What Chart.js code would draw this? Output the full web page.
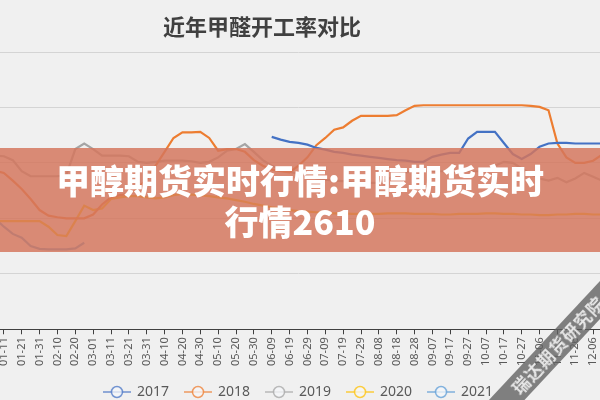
<!DOCTYPE html>
<html>
<head>
<meta charset="utf-8">
<script src="https://cdn.jsdelivr.net/npm/chart.js@4"></script>
<style>
  html, body { margin: 0; padding: 0; background: #f0f0f0; }
  #wrap { position: relative; width: 600px; height: 400px; overflow: hidden; background: #f0f0f0; }
  #chart { position: absolute; left: -40px; top: 9px; }
  #title {
    position: absolute; left: 162px; width: 200px; top: 9px; text-align: center;
    font: bold 22px "Noto Sans CJK SC", sans-serif; color: #404040; white-space: nowrap;
  }
  #banner {
    position: absolute; left: 0; top: 148px; width: 600px; height: 104px;
    background: rgba(212, 118, 93, 0.84); color: #fff; text-align: center;
    font: 900 34px/41px "Noto Sans CJK SC", sans-serif; padding-top: 11px; box-sizing: border-box;
  }
  #mark {
    position: absolute; left: 458px; top: 332px; width: 200px; height: 26px;
    transform: rotate(-47deg); background: rgba(95, 95, 95, 0.78); color: #e8e8e8;
    font: bold 17px/26px "Noto Sans CJK SC", sans-serif; text-align: center; letter-spacing: 1px;
  }
</style>
</head>
<body>
<div id="wrap">
  <canvas id="chart" width="684" height="400"></canvas>
  <div id="title">近年甲醛开工率对比</div>
  <div id="banner">甲醇期货实时行情:甲醇期货实时<br>行情2610</div>
  <div id="mark">瑞达期货研究院</div>
</div>
<script>
// Dates, every 5 days (only every other one is shown as a label)
const dates = [
  '01-01','01-06','01-11','01-16','01-21','01-26','01-31','02-05','02-10','02-15',
  '02-20','02-25','03-01','03-06','03-11','03-16','03-21','03-26','03-31','04-05',
  '04-10','04-15','04-20','04-25','04-30','05-05','05-10','05-15','05-20','05-25',
  '05-30','06-04','06-09','06-14','06-19','06-24','06-29','07-04','07-09','07-14',
  '07-19','07-24','07-29','08-03','08-08','08-13','08-18','08-23','08-28','09-02',
  '09-07','09-12','09-17','09-22','09-27','10-02','10-07','10-12','10-17','10-22',
  '10-27','11-01','11-06','11-11','11-16','11-21','11-26','12-01','12-06','12-11',
  '12-16'
];

const years = ['2017', '2018', '2019', '2020', '2021'];
const colors = ['#4472c4', '#ed7d31', '#a5a5a5', '#ffc000', '#5b9bd5'];

const rate2017 = [
  null, null, null, null, null, null, null, null, null, null,
  null, null, null, null, null, null, null, null, null, null,
  null, null, null, null, null, null, null, null, null, null,
  null, null, 64.7, 64.2, 63.8, 63.6, 63.3, 62.7, 62.4, 62.0,
  61.8, 61.5, 61.3, 61.1, 60.9, 60.7, 60.5, 60.4, 60.2, 60.2,
  61.1, 61.5, 61.8, 61.8, 64.4, 65.6, 65.6, 65.6, 63.6, 61.6,
  60.7, 61.6, 62.9, 63.5, 63.6, 63.6, 63.5, 63.5, 63.5, 63.5,
  63.5
];
const rate2018 = [
  59.5, 58.6, 58.2, 56.8, 55.3, 53.5, 51.5, 50.5, 50.2, 50.0,
  50.0, 50.0, 50.7, 52.5, 53.8, 54.2, 54.4, 55.5, 57.0, 59.5,
  62.0, 64.5, 65.5, 65.5, 65.6, 64.5, 62.2, 62.5, 62.5, 62.0,
  60.5, 59.5, 58.8, 58.5, 58.3, 59.5, 61.0, 63.2, 64.5, 66.0,
  66.4, 67.6, 68.5, 68.5, 68.5, 68.5, 68.6, 69.5, 70.3, 70.4,
  70.4, 70.4, 70.4, 70.4, 70.4, 70.4, 70.4, 70.4, 70.4, 70.4,
  70.4, 70.3, 70.1, 69.5, 63.5, 61.0, 60.0, 60.0, 60.4, 61.5,
  62.5
];
const rate2019 = [
  61.5, 61.3, 61.2, 60.5, 58.5, 57.6, 57.6, 57.6, 57.6, 57.8,
  62.5, 63.5, 62.5, 61.3, 61.3, 61.3, 61.2, 60.2, 60.0, 60.2,
  60.4, 60.4, 60.4, 60.3, 60.0, 60.2, 61.0, 62.2, 62.5, 63.4,
  62.0, 60.5, 59.5, 58.8, 58.4, 58.0, 57.6, 57.2, 57.0, 56.8,
  56.7, 56.5, 56.4, 56.4, 56.4, 57.0, 58.0, 58.3, 58.5, 58.5,
  58.5, 58.5, 58.5, 58.5, 58.5, 58.5, 58.5, 59.5, 60.2, 60.0,
  59.0, 58.0, 57.2, 56.8, 57.3, 56.5, 57.2, 58.2, 57.5, 56.8,
  57.0
];
const rate2020 = [
  49.5, 49.5, 49.5, 49.5, 49.5, 49.5, 49.5, 48.5, 47.0, 46.8,
  49.5, 52.3, 51.5, 51.8, 53.5, 53.8, 54.0, 54.0, 53.8, 53.6,
  53.8, 54.2, 54.4, 54.3, 54.2, 54.0, 53.8, 53.6, 53.3, 53.0,
  52.6, 52.3, 52.0, 51.8, 51.5, 51.3, 51.2, 51.1, 51.0, 50.9,
  50.9, 50.8, 50.8, 50.8, 50.8, 50.9, 50.9, 50.9, 50.8, 50.8,
  50.8, 50.7, 50.7, 50.8, 50.8, 50.8, 50.9, 50.9, 50.8, 50.8,
  50.7, 50.7, 50.6, 50.6, 50.7, 50.7, 50.8, 50.8, 50.7, 50.7,
  50.7
];
const rate2021 = [
  51.5, 50.0, 48.5, 47.2, 46.5, 45.0, 44.5, 44.4, 44.4, 44.4,
  44.6, 45.6
];

const series = [rate2017, rate2018, rate2019, rate2020, rate2021];

// legend marker: short line with an open circle
function makeMarker(color) {
  const c = document.createElement('canvas');
  c.width = 28; c.height = 14;
  const g = c.getContext('2d');
  g.globalAlpha = 0.75;
  g.strokeStyle = color; g.lineWidth = 1.5;
  g.beginPath(); g.moveTo(0, 7); g.lineTo(28, 7); g.stroke();
  g.beginPath(); g.arc(14, 7, 5.5, 0, Math.PI * 2);
  g.fillStyle = '#f6f7fa'; g.fill(); g.stroke();
  return c;
}
const markers = colors.map(makeMarker);

new Chart(document.getElementById('chart'), {
  type: 'line',
  data: {
    labels: dates,
    datasets: years.map((y, i) => ({
      label: y,
      data: series[i],
      borderColor: colors[i],
      backgroundColor: colors[i],
      borderWidth: 2.2,
      pointRadius: 0,
      tension: 0
    }))
  },
  options: {
    responsive: false,
    animation: false,
    layout: { padding: { top: 43, left: 26, right: 33, bottom: 0 } },
    plugins: {
      title: { display: false },
      tooltip: { enabled: false },
      legend: {
        position: 'bottom',
        labels: {
          usePointStyle: true,
          pointStyleWidth: 26,
          padding: 16,
          color: '#595959',
          font: { family: 'Noto Sans', size: 14 },
          generateLabels(chart) {
            const items = Chart.defaults.plugins.legend.labels.generateLabels(chart);
            items.forEach((it, i) => { it.pointStyle = markers[i]; });
            return items;
          }
        }
      }
    },
    scales: {
      x: {
        ticks: {
          autoSkip: false, minRotation: 90, maxRotation: 90,
          color: '#595959', font: { family: 'Noto Sans', size: 11 },
          callback(v, i) { return i % 2 === 0 ? dates[i] : ''; }
        },
        grid: {
          drawOnChartArea: false, tickLength: 5,
          color: ctx => (ctx.index % 2 === 0 ? '#404040' : 'rgba(0,0,0,0)')
        },
        border: { color: '#404040' }
      },
      y: {
        min: 30, max: 80,
        ticks: { display: false, stepSize: 10 },
        grid: { color: '#d4d4d4', drawTicks: false },
        border: { display: false }
      }
    }
  }
});
</script>
</body>
</html>
